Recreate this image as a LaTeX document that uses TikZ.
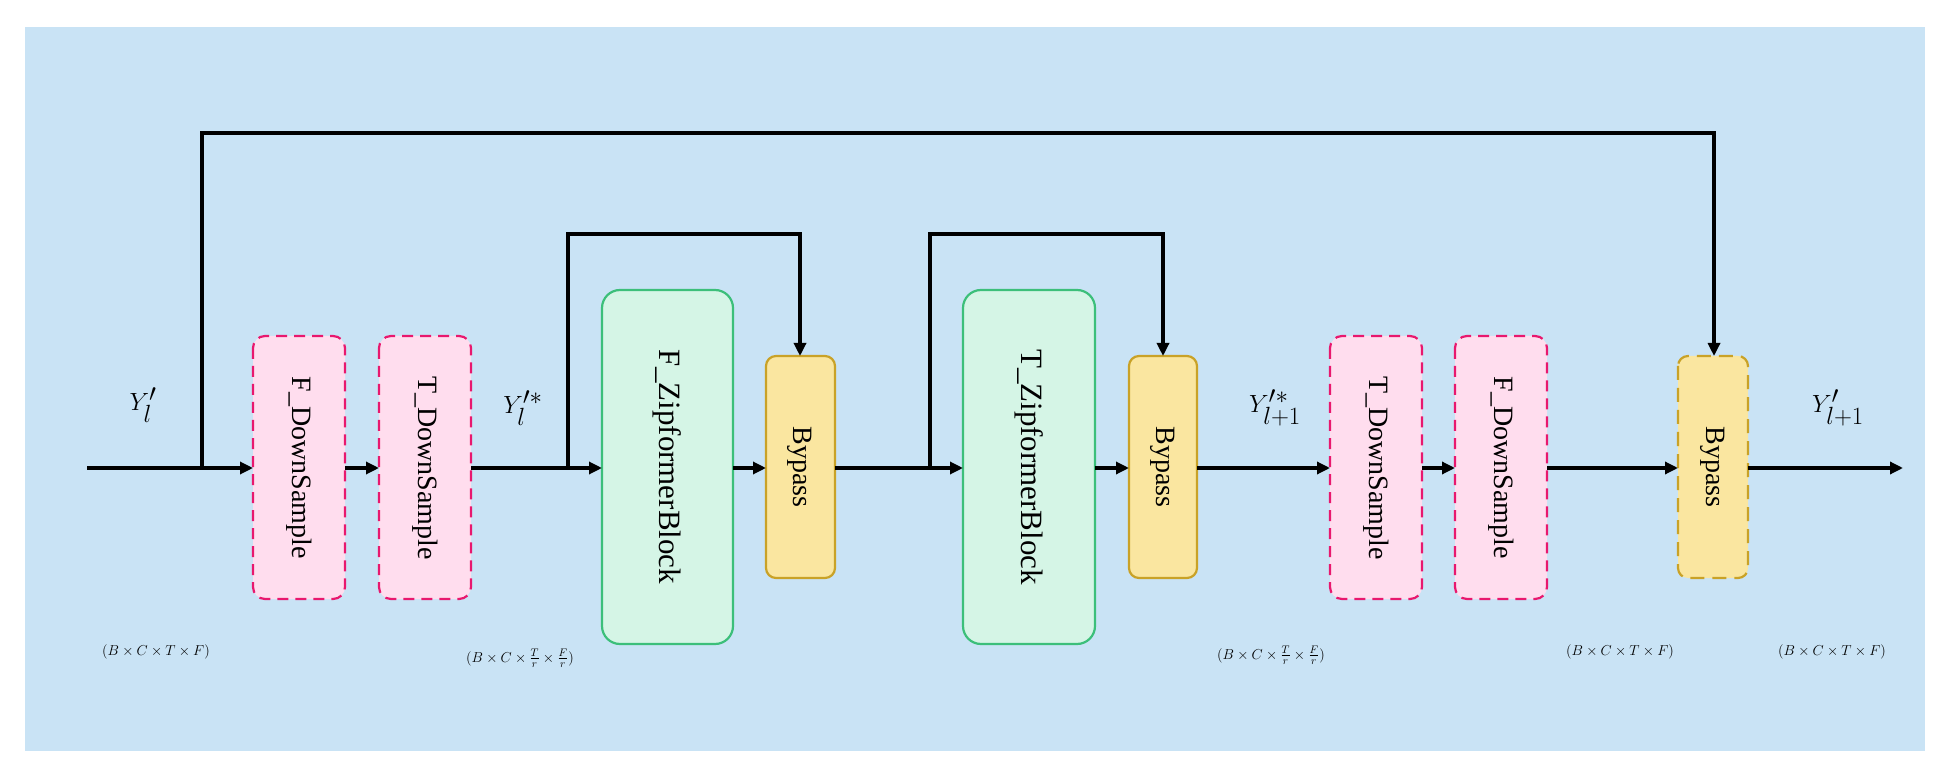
\documentclass[tikz,border=0pt]{standalone}
\usepackage{fontspec}
\setmainfont{Liberation Serif}
\usepackage{amsmath}
\usetikzlibrary{arrows.meta}
\definecolor{bgc}{RGB}{201,227,245}
\definecolor{pinkd}{RGB}{232,24,110}
\definecolor{pinkf}{RGB}{255,221,238}
\definecolor{greend}{RGB}{60,191,122}
\definecolor{greenf}{RGB}{213,245,230}
\definecolor{yeld}{RGB}{201,162,39}
\definecolor{yelf}{RGB}{250,230,160}
\begin{document}
\begin{tikzpicture}[x=1pt,y=-1pt,
 line width=3.2pt,
 arr/.style={-{Triangle[length=13pt,width=12pt]}},
 box/.style={rounded corners=12pt,line width=2.2pt,inner sep=0pt},
 ds/.style={box,draw=pinkd,fill=pinkf,dash pattern=on 11pt off 7pt},
 zb/.style={box,draw=greend,fill=greenf,rounded corners=18pt},
 bp/.style={box,draw=yeld,fill=yelf,rounded corners=10pt},
 lbl/.style={rotate=-90,font=\fontsize{28}{30}\selectfont},
 ml/.style={font=\fontsize{40}{44}\selectfont},
 dl/.style={font=\fontsize{15}{17}\selectfont}]
\useasboundingbox (0,0) rectangle (1944,775);
\fill[bgc] (25,27) rectangle (1925,751);
% boxes
\draw[ds] (253,336) rectangle (345,599); \node[lbl] (fds1) at (299,468) {F\_DownSample};
\draw[ds] (379,336) rectangle (471,599); \node[lbl] (tds1) at (425,468) {T\_DownSample};
\draw[zb] (602,290) rectangle (733,644); \node[lbl,font=\fontsize{31}{33}\selectfont] (fz) at (667,467) {F\_ZipformerBlock};
\draw[bp] (766,356) rectangle (835,578); \node[lbl] (b1) at (800,467) {Bypass};
\draw[zb] (963,290) rectangle (1095,644); \node[lbl,font=\fontsize{31}{33}\selectfont] (tz) at (1029,467) {T\_ZipformerBlock};
\draw[bp] (1129,356) rectangle (1197,578); \node[lbl] (b2) at (1163,467) {Bypass};
\draw[ds] (1330,336) rectangle (1422,599); \node[lbl] (tds2) at (1376,468) {T\_DownSample};
\draw[ds] (1455,336) rectangle (1547,599); \node[lbl] (fds2) at (1501,468) {F\_DownSample};
\draw[bp,dash pattern=on 14pt off 8pt] (1678,356) rectangle (1748,578); \node[lbl] (b3) at (1713,467) {Bypass};
% coordinates
\coordinate (in) at (87,468);
\coordinate (j1) at (202,468); \coordinate (j1t) at (202,133); \coordinate (j1e) at (1714,133);
\coordinate (j2) at (568,468); \coordinate (j2t) at (568,234); \coordinate (j2e) at (800,234);
\coordinate (j3) at (930,468); \coordinate (j3t) at (930,234); \coordinate (j3e) at (1163,234);
\coordinate (out) at (1903,468);
% main line
\draw[arr] (in) -- (253,468);
\draw[arr] (345,468) -- (379,468);
\draw[arr] (471,468) -- (602,468);
\draw[arr] (733,468) -- (766,468);
\draw[arr] (835,468) -- (963,468);
\draw[arr] (1095,468) -- (1129,468);
\draw[arr] (1197,468) -- (1330,468);
\draw[arr] (1422,468) -- (1455,468);
\draw[arr] (1547,468) -- (1678,468);
\draw[arr] (1748,468) -- (out);
% skips
\draw[arr] (j1) -- (j1t) -- (j1e) -- (1714,356);
\draw[arr] (j2) -- (j2t) -- (j2e) -- (800,356);
\draw[arr] (j3) -- (j3t) -- (j3e) -- (1163,356);
% labels
\node[ml] (l1) at (143,405) {$Y'_l$};
\node[ml] (l2) at (523,408) {$Y'^{*}_l$};
\node[ml] (l3) at (1275,408) {$Y'^{*}_{l+1}$};
\node[ml] (l4) at (1838,408) {$Y'_{l+1}$};
\node[dl] (d1) at (156,652) {$(B\times C\times T\times F)$};
\node[dl] (d2) at (520,658) {$(B\times C\times \frac{T}{r}\times \frac{F}{r})$};
\node[dl] (d3) at (1271,655) {$(B\times C\times \frac{T}{r}\times \frac{F}{r})$};
\node[dl] (d4) at (1620,652) {$(B\times C\times T\times F)$};
\node[dl] (d5) at (1832,652) {$(B\times C\times T\times F)$};
\end{tikzpicture}
\end{document}
